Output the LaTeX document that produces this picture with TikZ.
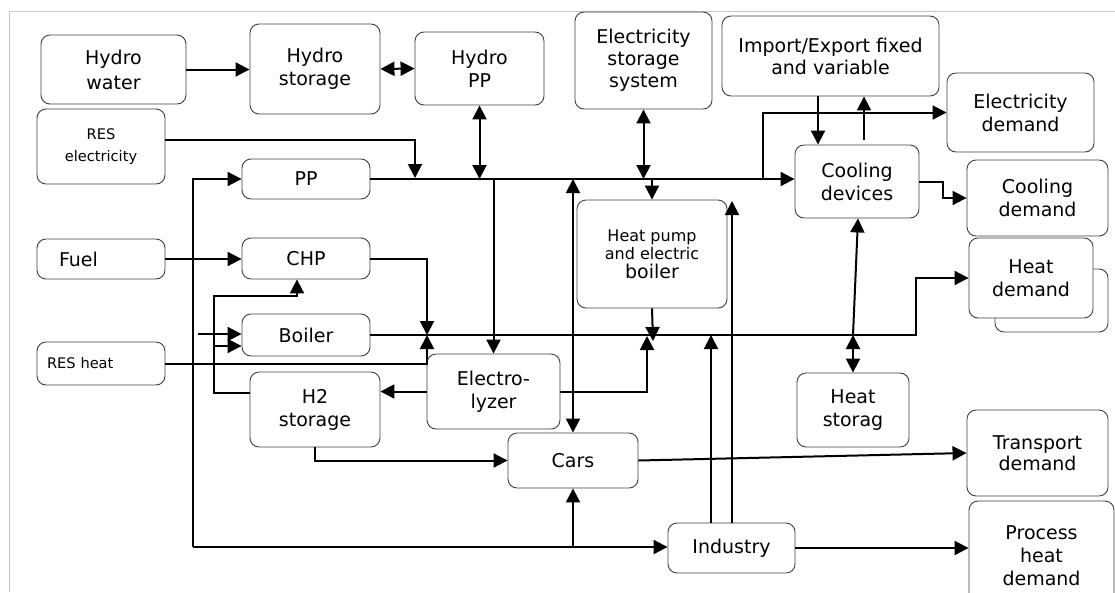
\documentclass[tikz,border=0pt]{standalone}
\usepackage{fontspec}
\setmainfont{DejaVu Sans}
\usetikzlibrary{arrows.meta}
\tikzset{
  box/.style={draw=black!75, line width=0.9pt, rounded corners=9pt, fill=white, inner sep=0pt, align=center, font=\fontsize{19}{23}\selectfont},
  sz/.style 2 args={minimum width=#1pt, minimum height=#2pt},
  smalltxt/.style={font=\fontsize{14.6}{22}\selectfont},
  ln/.style={line width=2pt, line join=miter},
  arr/.style={ln, -{Triangle[length=14pt,width=14pt]}},
  darr/.style={ln, {Triangle[length=14pt,width=14pt]}-{Triangle[length=14pt,width=14pt]}},
  frame/.style={draw=black!22, line width=1pt}
}
\begin{document}
\begin{tikzpicture}[x=1pt,y=-1pt]
\useasboundingbox (0,0) rectangle (1115,592);
\draw[frame] (9,592) -- (9,11) -- (1115,11);

% nodes
\node[box, sz={145}{69}, font=\fontsize{19}{25}\selectfont] (hwater) at (113.5,69.5) {Hydro\\water};
\node[box, sz={130}{90}] (hstor) at (315,69) {Hydro\\storage};
\node[box, sz={129}{73}] (hpp) at (479.5,68.5) {Hydro\\PP};
\node[box, sz={137}{97}, font=\fontsize{19}{22}\selectfont] (ess) at (643.5,60.5) {Electricity\\storage\\system};
\node[box, sz={217}{80}, font=\fontsize{19}{22}\selectfont] (impexp) at (830.5,56) {Import/Export fixed\\and variable};
\node[box, sz={147}{79}] (eldem) at (1020.5,112.5) {Electricity\\demand};
\node[box, sz={124}{73}] (cooldev) at (857,181.5) {Cooling\\devices};
\node[box, sz={141}{76}] (cooldem) at (1037.5,198) {Cooling\\demand};
\node[box, sz={113}{63}] (heatdemb) at (1051.5,300.5) {};
\node[box, sz={124}{80}] (heatdem) at (1031,278) {Heat\\demand};
\node[box, sz={128}{75}, smalltxt] (reselec) at (101,146.5) {RES\\electricity};
\node[box, sz={128}{40}] (pp) at (306,179) {PP};
\node[box, sz={128}{40}, text width=84pt, inner xsep=22pt, align=left] (fuel) at (101,259) {Fuel};
\node[box, sz={128}{41}] (chp) at (306,258.5) {CHP};
\node[box, sz={128}{42}] (boiler) at (306,335) {Boiler};
\node[box, sz={128}{43}, smalltxt, text width=108pt, inner xsep=10pt, align=left] (resheat) at (101,363.5) {RES heat};
\node[box, sz={130}{75}] (h2) at (315,409.5) {H2\\storage};
\node[box, sz={133}{75}] (elyz) at (493.5,391.5) {Electro-\\lyzer};
\node[box, sz={130}{55}] (cars) at (573,460.5) {Cars};
\node[box, sz={127}{50}] (industry) at (731.5,548) {Industry};
\node[box, sz={150}{108}, font=\fontsize{16}{18.5}\selectfont] (hp) at (652,254) {Heat pump\\and electric\\{\fontsize{19}{23}\selectfont boiler}};
\node[box, sz={112}{74}] (hstorag) at (853,410) {Heat\\storag};
\node[box, sz={141}{86}, font=\fontsize{19}{21}\selectfont] (transdem) at (1037.5,453) {Transport\\demand};
\node[box, sz={145}{109}] (procdem) at (1041.5,555.5) {Process\\heat\\demand};

% coordinates
\coordinate (resin) at (415,178);
\coordinate (indtop) at (732,201);
\coordinate (hbind) at (711,335);
\coordinate (hbx) at (916,335);
\coordinate (hbin) at (427,335);
\coordinate (hbel) at (647,336);
\coordinate (hbhp) at (653,341);
\coordinate (h2up) at (214,296);
\coordinate (h2br) at (214,346);
\coordinate (boilin) at (198,334);
\coordinate (loopbl) at (193,547);
\coordinate (ieup) at (864,140);
\coordinate (edx) at (763,179);

% electricity
\draw[arr] (hwater.east) -- (hwater.east -| hstor.west);
\draw[darr] (hstor.east) -- (hpp.west);
\draw[darr] (hpp.south) -- (hpp.south |- pp.east);
\draw[arr] ([yshift=6.5pt]reselec.east) -| (resin);
\draw[arr] (pp.east) -- (pp.east -| cooldev.west);
\draw[darr] (ess.south) -- (ess.south |- pp.east);
\draw[arr] (hp.north |- pp.east) -- (hp.north);
\draw[arr] (elyz.north |- pp.east) -- (elyz.north);
\draw[darr] (cars.north) -- (cars.north |- pp.east);
\draw[arr] (indtop |- industry.north) -- (indtop);
\draw[arr] (edx) |- (eldem.west);
\draw[arr] ([xshift=-12.5pt]impexp.south) -- ([xshift=-12.5pt]impexp.south |- cooldev.north);
\draw[arr] (ieup) -- (ieup |- impexp.south);
\draw[arr] (cooldev.east) -- ++(24,0) |- (cooldem.west);

% heat
\draw[arr] (boiler.east) -- (hbx) |- (heatdem.west);
\draw[arr] (chp.east) -| (hbin);
\draw[arr] (resheat.east) -| (hbin);
\draw[arr] (hbind |- industry.north) -- (hbind);
\draw[arr] (elyz.east) -| (hbel);
\draw[arr] (hp.south) -- (hbhp);
\draw[darr] (hstorag.north) -- (hstorag.north |- boiler.east);
\draw[arr] (hstorag.north |- boiler.east) -- ([xshift=1pt]cooldev.south);

% fuels, hydrogen, transport
\draw[arr] (fuel.east) -- (fuel.east -| chp.west);
\draw[arr] (elyz.west) -- (elyz.west -| h2.east);
\draw[arr] ([yshift=16.5pt]h2.west) -| (h2up) -| ([xshift=-9pt]chp.south);
\draw[arr] (h2br) -- (h2br -| boiler.west);
\draw[arr] (boilin) -- (boilin -| boiler.west);
\draw[arr] (loopbl) |- (pp.west);
\draw[arr] (loopbl) -- (loopbl -| industry.west);
\draw[arr] (cars.south |- loopbl) -- (cars.south);
\draw[arr] (h2.south) |- (cars.west);
\draw[arr] (cars.east) -- (transdem.west);
\draw[arr] (industry.east) -- (industry.east -| procdem.west);
\end{tikzpicture}
\end{document}
